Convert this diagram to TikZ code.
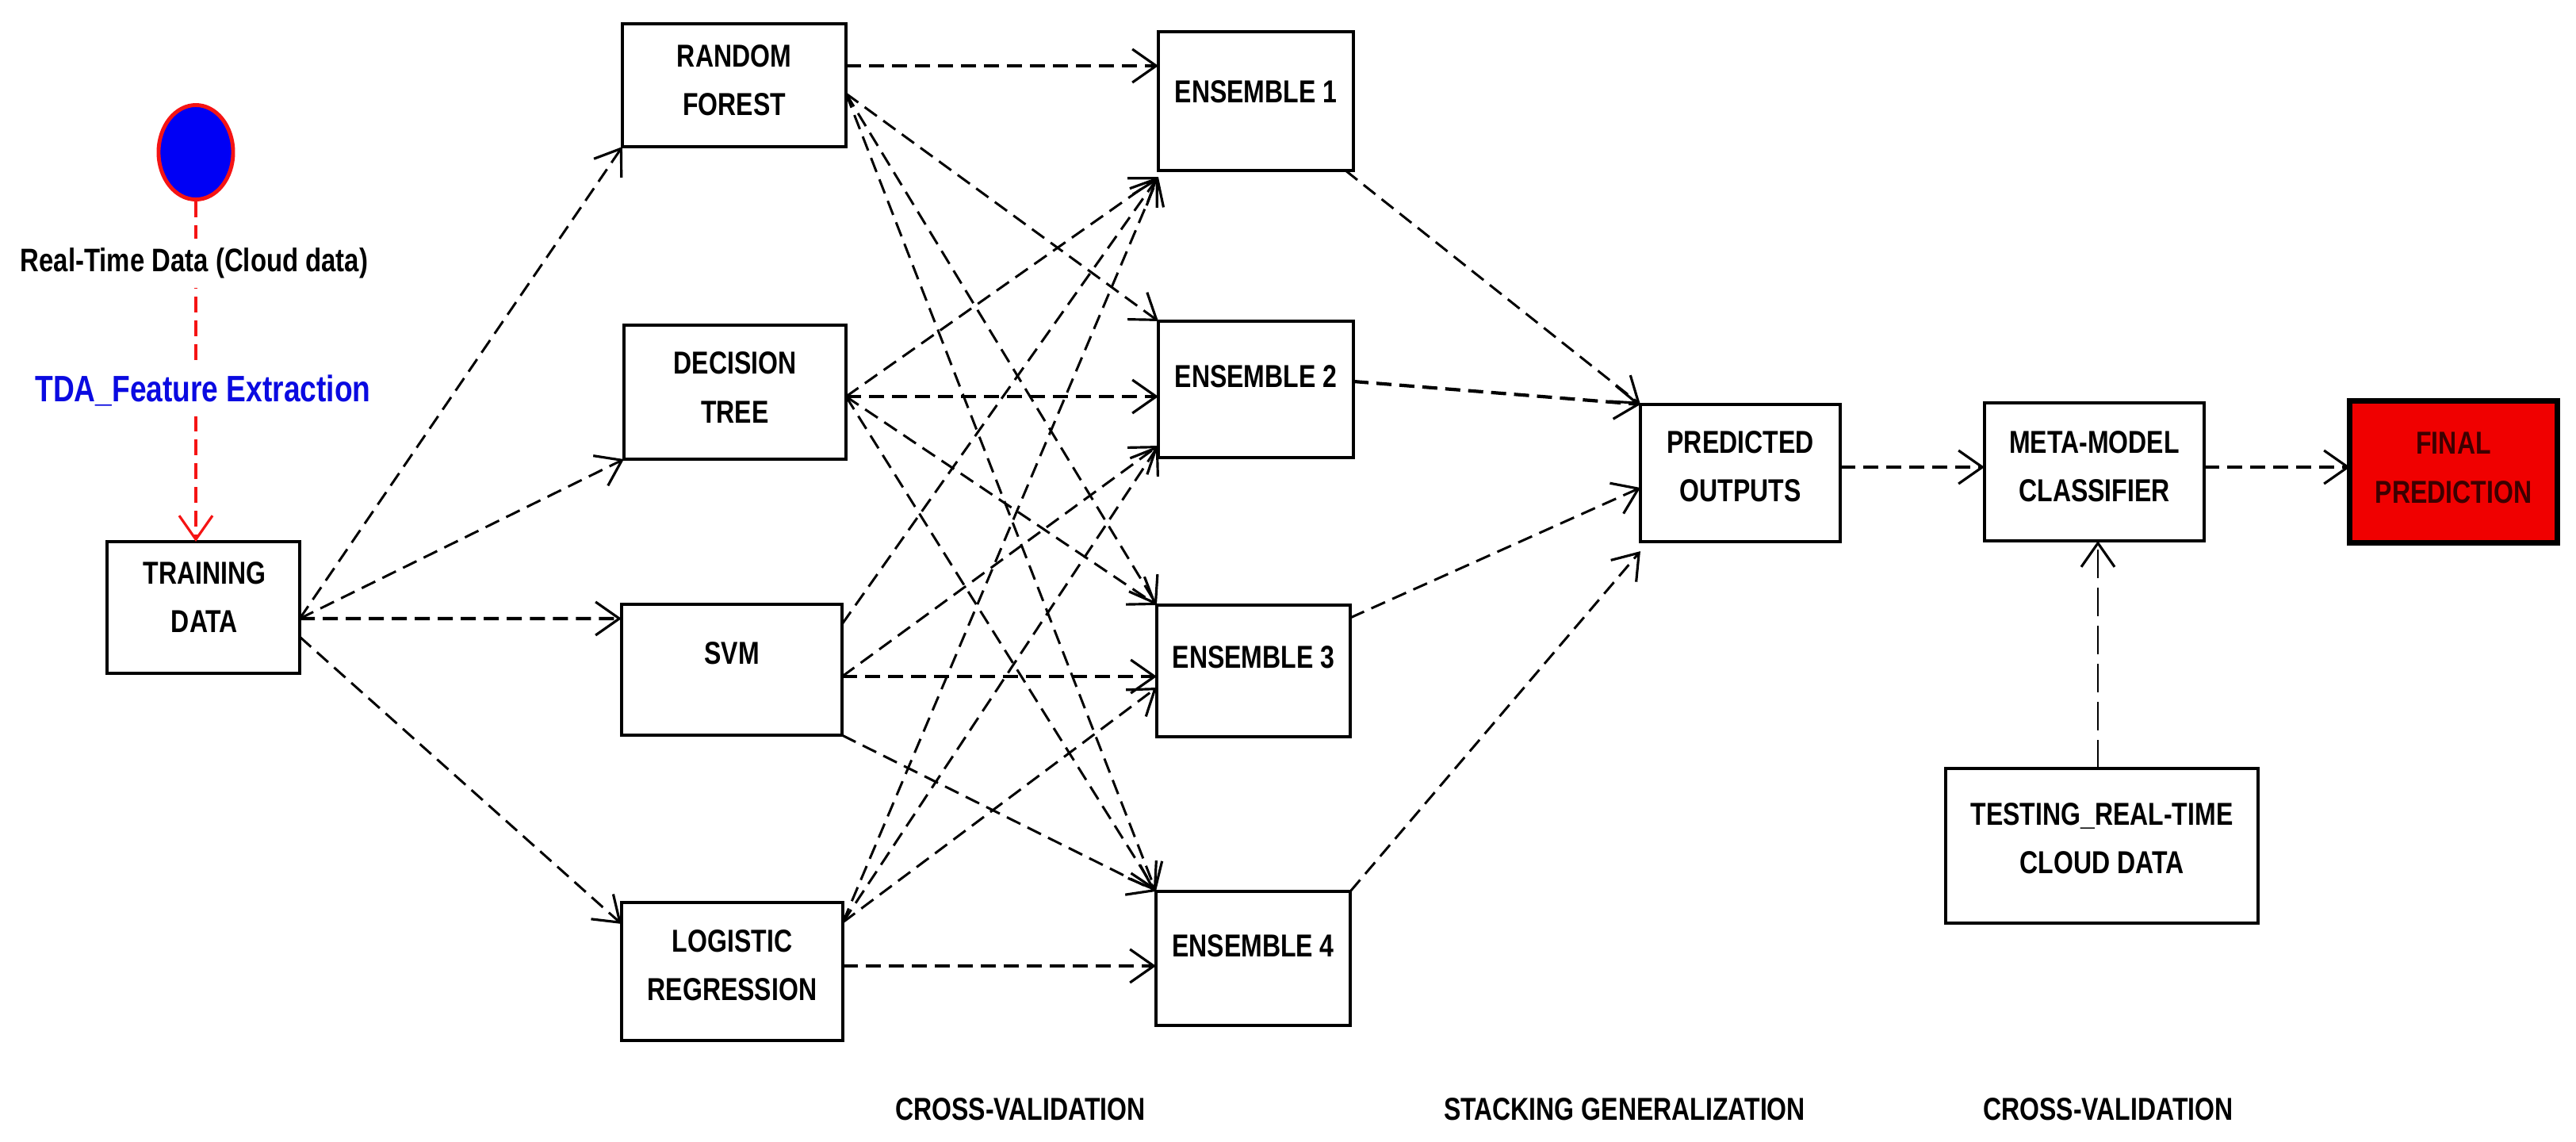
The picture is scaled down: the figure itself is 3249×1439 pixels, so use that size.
\documentclass[tikz,border=0pt]{standalone}
\usepackage{fontspec}
\setmainfont[FakeStretch=0.8]{Liberation Sans}
\usetikzlibrary{arrows.meta,shapes.geometric,calc}
\definecolor{fpred}{RGB}{240,0,0}
\definecolor{fptext}{RGB}{60,0,0}
\definecolor{tdablue}{RGB}{10,10,225}
\definecolor{ellblue}{RGB}{0,0,245}
\definecolor{ellred}{RGB}{245,20,20}
\begin{document}
\begin{tikzpicture}[x=0.01cm,y=-0.01cm,
  box/.style={draw, line width=1.1pt, fill=white, inner sep=0pt, outer sep=0pt},
  txt/.style={font=\bfseries\fontsize{11.38}{17.4}\selectfont, align=center, inner sep=0pt},
  lbl/.style={font=\bfseries\fontsize{11.7}{17.4}\selectfont, align=center, fill=white, inner sep=0.12cm},
  barb/.style={-{Straight Barb[length=0.3cm,width=0.42cm,line width=0.9pt]}},
  edge/.style={barb, line width=0.85pt, dash pattern=on 0.19cm off 0.1cm},
  edgeb/.style={barb, line width=1.2pt, dash pattern=on 0.19cm off 0.1cm},
  longedge/.style={barb, line width=0.8pt, dash pattern=on 0.36cm off 0.12cm},
  rededge/.style={-{Straight Barb[length=0.3cm,width=0.42cm,line width=0.9pt]}, draw=ellred, line width=1pt, dash pattern=on 0.2cm off 0.1cm}
]
\fill[white] (0,0) rectangle (3249,1439);
\useasboundingbox (0,0) rectangle (3249,1439);

% ---------- nodes ----------
\node[ellipse, draw=ellred, fill=ellblue, line width=1.4pt, inner sep=0pt,
      minimum width=0.94cm, minimum height=1.19cm] (ell) at (247,192) {};

\node[box, minimum width=2.43cm, minimum height=1.66cm] (td) at (256.5,766) {};
\node[txt] (tdt) at (258,753) {TRAINING\\DATA};

\node[box, minimum width=2.82cm, minimum height=1.55cm] (rf) at (926,107.5) {};
\node[txt] (rft) at (926,101.5) {RANDOM\\FOREST};
\node[box, minimum width=2.80cm, minimum height=1.69cm] (dt) at (927,494.5) {};
\node[txt] (dtt) at (927,488.5) {DECISION\\TREE};
\node[box, minimum width=2.78cm, minimum height=1.65cm] (svm) at (923,844.5) {};
\node[txt] (svmt) at (923,824) {SVM};
\node[box, minimum width=2.79cm, minimum height=1.74cm] (lr) at (923.5,1225) {};
\node[txt] (lrt) at (923.5,1217.5) {LOGISTIC\\REGRESSION};

\node[box, minimum width=2.46cm, minimum height=1.75cm] (e1) at (1584,127.5) {};
\node[txt] (e1t) at (1584,116) {ENSEMBLE 1};
\node[box, minimum width=2.46cm, minimum height=1.72cm] (e2) at (1584,491) {};
\node[txt] (e2t) at (1584,475) {ENSEMBLE 2};
\node[box, minimum width=2.44cm, minimum height=1.66cm] (e3) at (1581,846) {};
\node[txt] (e3t) at (1581,829) {ENSEMBLE 3};
\node[box, minimum width=2.45cm, minimum height=1.69cm] (e4) at (1580.5,1208.5) {};
\node[txt] (e4t) at (1580.5,1193) {ENSEMBLE 4};

\node[box, minimum width=2.52cm, minimum height=1.73cm] (po) at (2195,596.5) {};
\node[txt] (pot) at (2195,588.5) {PREDICTED\\OUTPUTS};
\node[box, minimum width=2.77cm, minimum height=1.74cm] (mm) at (2641.5,595) {};
\node[txt] (mmt) at (2641.5,588.5) {META-MODEL\\CLASSIFIER};
\node[box, fill=fpred, line width=2pt, minimum width=2.61cm, minimum height=1.78cm] (fp) at (3094.5,595) {};
\node[txt, text=fptext] (fpt) at (3094.5,590) {FINAL\\PREDICTION};
\node[box, minimum width=3.94cm, minimum height=1.95cm] (test) at (2651,1066.5) {};
\node[txt] (testt) at (2651,1057.5) {TESTING\_REAL-TIME\\CLOUD DATA};

% ---------- red input arrow ----------
\draw[rededge] (ell.south) -- (ell.south |- td.north);
\node[lbl] (rtd) at (245,332) {Real-Time Data (Cloud data)};
\node[lbl, text=tdablue, font=\bfseries\fontsize{13.2}{17.4}\selectfont] (tda) at (256,493) {TDA\_Feature Extraction};

% ---------- training data to base models ----------
\draw[edge] ([yshift=-0.14cm]td.east) -- (rf.south west);
\draw[edge] ([yshift=-0.14cm]td.east) -- (dt.south west);
\draw[edgeb] ([yshift=-0.14cm]td.east) -- ([yshift=0.645cm]svm.west);
\draw[edge] ([yshift=-0.37cm]td.east) -- ([yshift=-0.27cm]lr.north west);

% ---------- base models to ensembles ----------
% Random forest
\draw[edgeb] ([yshift=0.245cm]rf.east) coordinate (rfa) -- (rfa -| e1.west);
\draw[edge] ([yshift=-0.105cm]rf.east) -- (e2.north west);
\draw[edge] ([yshift=-0.105cm]rf.east) -- (e3.north west);
\draw[edge] ([yshift=-0.105cm]rf.east) -- (e4.north west);
% Decision tree
\draw[edge] ([yshift=-0.055cm]dt.east) -- ([yshift=-0.08cm]e1.south west);
\draw[edgeb] ([yshift=-0.055cm]dt.east) coordinate (dta) -- (dta -| e2.west);
\draw[edge] ([yshift=-0.055cm]dt.east) -- (e3.north west);
\draw[edge] ([yshift=-0.055cm]dt.east) -- (e4.north west);
% SVM
\draw[edge] ([yshift=0.575cm]svm.east) -- ([yshift=-0.08cm]e1.south west);
\draw[edge] ([yshift=-0.085cm]svm.east) -- ([yshift=0.15cm]e2.south west);
\draw[edgeb] ([yshift=-0.085cm]svm.east) coordinate (svma) -- (svma -| e3.west);
\draw[edge] (svm.south east) -- (e4.north west);
% Logistic regression
\draw[edge] ([yshift=-0.25cm]lr.north east) -- ([yshift=-0.08cm]e1.south west);
\draw[edge] ([yshift=-0.25cm]lr.north east) -- ([yshift=0.15cm]e2.south west);
\draw[edge] ([yshift=-0.25cm]lr.north east) -- ([yshift=-0.21cm]e3.west);
\draw[edgeb] ([yshift=0.07cm]lr.east) coordinate (lra) -- (lra -| e4.west);

% ---------- ensembles to predicted outputs ----------
\draw[edge] ([xshift=-0.1cm]e1.south east) -- (po.north west);
\draw[edgeb] ([yshift=0.1cm]e2.east) -- (po.north west);
\draw[edge] ([yshift=-0.16cm]e3.north east) -- ([yshift=-0.185cm]po.west);
\draw[edge] (e4.north east) -- ([yshift=-0.12cm]po.south west);

% ---------- right part ----------
\draw[edgeb] ([yshift=0.075cm]po.east) coordinate (poa) -- (poa -| mm.west);
\draw[edgeb] ([yshift=0.06cm]mm.east) coordinate (mma) -- (mma -| fp.west);
\draw[longedge] ([xshift=-0.05cm]test.north) coordinate (tsa) -- (tsa |- mm.south);

% ---------- bottom captions ----------
\node[txt] (cv1) at (1287,1399) {CROSS-VALIDATION};
\node[txt] (sg) at (2049,1399) {STACKING GENERALIZATION};
\node[txt] (cv2) at (2659,1399) {CROSS-VALIDATION};
\end{tikzpicture}
\end{document}
